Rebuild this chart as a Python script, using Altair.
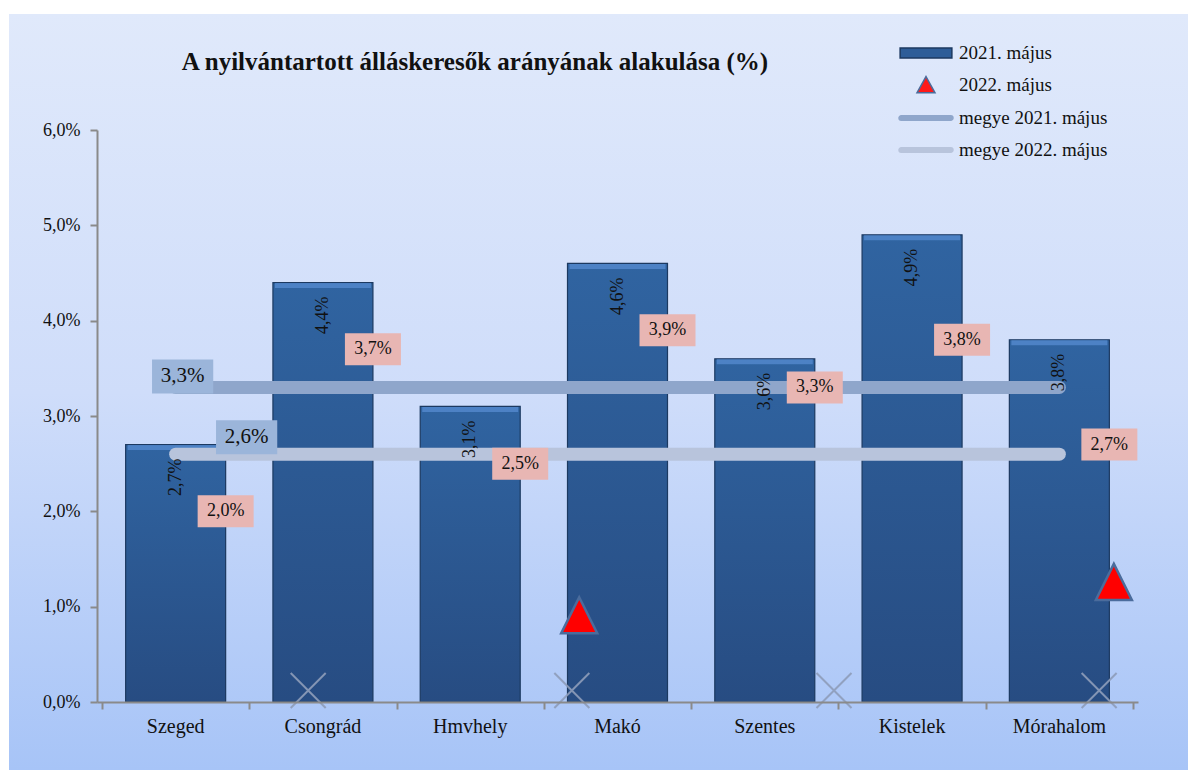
import altair as alt
import pandas as pd

# ---------------- data ----------------
cities = ["Szeged", "Csongrád", "Hmvhely", "Makó", "Szentes", "Kistelek", "Mórahalom"]
may2021 = [2.7, 4.4, 3.1, 4.6, 3.6, 4.9, 3.8]
may2022 = [2.0, 3.7, 2.5, 3.9, 3.3, 3.8, 2.7]
megye2021 = [3.3, 3.3, 3.3, 3.3, 3.3, 3.3, 3.3]
megye2022 = [2.6, 2.6, 2.6, 2.6, 2.6, 2.6, 2.6]
# stray markers as drawn in the reference (category units, value %)
tri_pos = [3.24, 6.87]
tri_val = [0.91, 1.26]
cross_pos = [1.40, 3.19, 4.97, 6.77]
cross_val = [0.12, 0.12, 0.12, 0.12]
series = ["2021. május", "2022. május", "megye 2021. május", "megye 2022. május"]
title_text = "A nyilvántartott álláskeresők arányának alakulása (%)"

W, H = 1041, 572
FONT = "Liberation Serif"


def pct(v):
    return f"{v:.1f}".replace(".", ",") + "%"


df = pd.DataFrame({"city": cities, "v21": may2021, "v22": may2022,
                   "m21": megye2021, "m22": megye2022})
df["pos"] = df.index + 0.5
df["l21"] = [pct(v) for v in may2021]
df["l22"] = [pct(v) for v in may2022]
df["lm21"] = [pct(v) for v in megye2021]
df["lm22"] = [pct(v) for v in megye2022]

tri_df = pd.DataFrame({"pos": tri_pos, "val": tri_val})
cross_df = pd.DataFrame({"pos": cross_pos, "val": cross_val})

xs = alt.Scale(domain=[0, 7], nice=False, zero=False)
ys = alt.Scale(domain=[0, 6], nice=False, zero=True)
x_axis = alt.Axis(values=list(range(8)), labels=False, ticks=True, tickSize=7,
                  tickColor="#8a8a8a", tickWidth=2, domainColor="#8a8a8a",
                  domainWidth=2, grid=False, title=None, zindex=1)
y_axis = alt.Axis(values=[0, 1, 2, 3, 4, 5, 6],
                  labelExpr="replace(format(datum.value, '.1f'), '.', ',') + '%'",
                  tickSize=7, tickColor="#8a8a8a", tickWidth=2, domainColor="#8a8a8a",
                  domainWidth=2, grid=False, title=None, labelFont=FONT,
                  labelFontSize=18, labelColor="#111111", labelPadding=10, zindex=1)


def X(f):
    return alt.X(f"{f}:Q", scale=xs, axis=x_axis)


def Y(f):
    return alt.Y(f"{f}:Q", scale=ys, axis=y_axis)


bg_grad = alt.LinearGradient(
    gradient="linear", x1=0, x2=0, y1=0, y2=1,
    stops=[alt.GradientStop(offset=0, color="#e0e9fb"),
           alt.GradientStop(offset=0.5, color="#cfddfa"),
           alt.GradientStop(offset=1, color="#a7c4f7")])
bar_grad = alt.LinearGradient(
    gradient="linear", x1=0, x2=0, y1=0, y2=1,
    stops=[alt.GradientStop(offset=0, color="#3064a1"),
           alt.GradientStop(offset=1, color="#274c82")])

one = pd.DataFrame({"a": [0]})
bg = alt.Chart(one).mark_rect(fill=bg_grad).encode(
    x=alt.value(-88), x2=alt.value(W + 50), y=alt.value(-116), y2=alt.value(H + 68))

bars = alt.Chart(df).mark_bar(size=100, fill=bar_grad, stroke="#1c3960",
                              strokeWidth=1.2).encode(x=X("pos"), y=Y("v21"))
bevel = alt.Chart(df).mark_tick(orient="horizontal", size=96, thickness=5,
                                color="#5a8ed4", yOffset=3).encode(x=X("pos"), y=Y("v21"))

line21 = alt.Chart(df).mark_line(color="#8fa6cb", strokeWidth=13, strokeCap="round").encode(
    x=X("pos"), y=Y("m21"))
line22 = alt.Chart(df).mark_line(color="#b8c4dc", strokeWidth=13, strokeCap="round").encode(
    x=X("pos"), y=Y("m22"))

bar_labels = alt.Chart(df).mark_text(angle=270, align="right", baseline="middle", yOffset=14,
                                     font=FONT, fontSize=18, color="#111111").encode(
    x=X("pos"), y=Y("v21"), text="l21:N")

BOX_P = "M-1.75,-1H1.75V1H-1.75Z"
pink_box = alt.Chart(df).mark_point(shape=BOX_P, size=1024, filled=True, fill="#e8b6b3",
                                    opacity=1, strokeWidth=0, xOffset=50).encode(
    x=X("pos"), y=Y("v22"))
pink_text = alt.Chart(df).mark_text(xOffset=50, font=FONT, fontSize=18, color="#111111").encode(
    x=X("pos"), y=Y("v22"), text="l22:N")

BOX_B = "M-1.8,-1H1.8V1H-1.8Z"
first = df.head(1)
m21_box = alt.Chart(first).mark_point(shape=BOX_B, size=1156, filled=True, fill="#9bb5da",
                                      opacity=1, strokeWidth=0, xOffset=7, yOffset=-11).encode(
    x=X("pos"), y=Y("m21"))
m21_text = alt.Chart(first).mark_text(xOffset=7, yOffset=-11, font=FONT, fontSize=21,
                                      color="#111111").encode(x=X("pos"), y=Y("m21"), text="lm21:N")
m22_box = alt.Chart(first).mark_point(shape=BOX_B, size=1156, filled=True, fill="#9bb5da",
                                      opacity=1, strokeWidth=0, xOffset=71, yOffset=-17).encode(
    x=X("pos"), y=Y("m22"))
m22_text = alt.Chart(first).mark_text(xOffset=71, yOffset=-17, font=FONT, fontSize=21,
                                      color="#111111").encode(x=X("pos"), y=Y("m22"), text="lm22:N")

TRI = "M0,-1L1,1L-1,1Z"
tris = alt.Chart(tri_df).mark_point(shape=TRI, size=1296, filled=True, fill="#ff0000",
                                    stroke="#4b6c9c", strokeWidth=2.5, opacity=1).encode(
    x=X("pos"), y=Y("val"))
crosses = alt.Chart(cross_df).mark_point(shape="M-1,-1L1,1M1,-1L-1,1", size=1225, filled=False,
                                         stroke="#8e9dba", strokeWidth=2, opacity=0.9).encode(
    x=X("pos"), y=Y("val"))

cat_labels = alt.Chart(df).mark_text(font=FONT, fontSize=20, baseline="middle",
                                     color="#111111").encode(
    x=X("pos"), y=alt.value(H + 25), text="city:N")

title = alt.Chart(pd.DataFrame({"t": [title_text]})).mark_text(
    font=FONT, fontSize=25, fontWeight="bold", color="#111111", align="center",
    baseline="middle").encode(x=alt.value(378), y=alt.value(-68), text="t:N")

leg = alt.Legend(orient="none", legendX=817, legendY=-89, title=None, labelFont=FONT,
                 labelFontSize=19, labelColor="#111111", symbolSize=506, rowPadding=10,
                 labelOffset=21, symbolStrokeWidth=1.5, symbolOpacity=1)
shapes = ["M-2.3,-0.45H2.3V0.45H-2.3Z", "M0,-0.75L0.8,0.7L-0.8,0.7Z",
          "M-2.2,-0.2H2.2A0.2,0.2 0 0 1 2.2,0.2H-2.2A0.2,0.2 0 0 1 -2.2,-0.2Z",
          "M-2.2,-0.2H2.2A0.2,0.2 0 0 1 2.2,0.2H-2.2A0.2,0.2 0 0 1 -2.2,-0.2Z"]
fills = ["#2e5d98", "#ff1a1a", "#8fa6cb", "#b8c4dc"]
strokes = ["#1c3960", "#4b6c9c", "#8fa6cb", "#b8c4dc"]
legend_layer = alt.Chart(pd.DataFrame({"s": series})).mark_point(
    filled=True, size=506, opacity=1).encode(
    x=alt.value(-700), y=alt.value(-700),
    color=alt.Color("s:N", scale=alt.Scale(domain=series, range=fills), legend=leg),
    shape=alt.Shape("s:N", scale=alt.Scale(domain=series, range=shapes), legend=leg),
    stroke=alt.Stroke("s:N", scale=alt.Scale(domain=series, range=strokes), legend=leg),
)

chart = alt.layer(
    bg, bars, bevel, line21, line22, bar_labels, pink_box, pink_text,
    m21_box, m21_text, m22_box, m22_text, tris, crosses, cat_labels, title, legend_layer
).properties(
    width=W, height=H,
    padding={"left": 89, "top": 122, "right": 50, "bottom": 68},
    autosize=alt.AutoSizeParams(type="none"),
).configure_view(stroke=None).configure(background="white")

chart.save("out.html", embed_options={"renderer": "svg", "actions": False})
